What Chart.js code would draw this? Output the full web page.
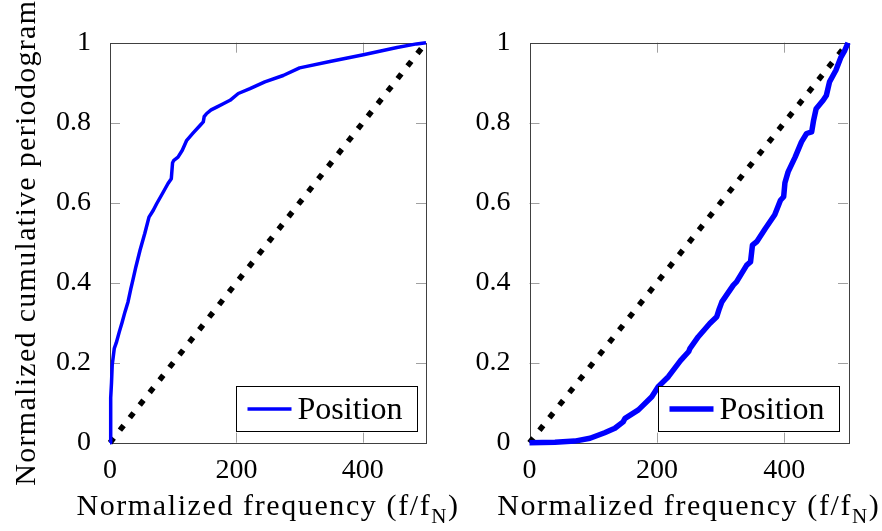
<!DOCTYPE html>
<html>
<head>
<meta charset="utf-8">
<script src="https://cdn.jsdelivr.net/npm/chart.js@4.4.1/dist/chart.umd.min.js"></script>
<style>
    html, body { margin: 0; padding: 0; background: #ffffff; }
    #wrap { position: relative; width: 882px; height: 531px; }
    .panel { position: absolute; top: 0; height: 531px; }
    /* left panel spans the whole width so its x title may run past the middle */
    #panel-left { left: 0; width: 882px; }
    #panel-right { left: 441px; width: 441px; }
</style>
</head>
<body>
<div id="wrap">
    <div class="panel" id="panel-left"><canvas id="cpg-left"></canvas></div>
    <div class="panel" id="panel-right"><canvas id="cpg-right"></canvas></div>
</div>
<script>
// ---- data ----
const LEFT_FREQ = [0, 1.1, 2.4, 3.5, 6.8, 10, 14.7, 19, 23.7, 28.5, 33, 36, 41, 47.5, 55, 61.7, 68.5, 74, 83, 91.8, 97, 99, 101, 107.6, 114.4, 121.4, 132, 142.4, 147.6, 149, 153, 160, 168.8, 180, 189.9, 203, 221.5, 245, 274, 300, 348, 401, 454, 485, 500];
const LEFT_CPG  = [0, 0.112, 0.15, 0.194, 0.236, 0.25, 0.277, 0.3, 0.327, 0.352, 0.385, 0.405, 0.44, 0.481, 0.523, 0.564, 0.581, 0.598, 0.623, 0.648, 0.66, 0.7, 0.706, 0.714, 0.731, 0.756, 0.775, 0.793, 0.802, 0.815, 0.823, 0.832, 0.839, 0.848, 0.856, 0.873, 0.885, 0.902, 0.918, 0.937, 0.953, 0.97, 0.988, 0.997, 1.0];

const RIGHT_FREQ = [0, 40, 71, 95, 118, 134, 147, 150, 171, 192, 202, 218, 237, 250, 252, 265, 283, 294, 298, 302, 320, 325, 341, 347, 350, 357, 370, 385, 394, 399, 401, 406, 417, 427, 435, 443, 446, 450, 461, 466, 471, 481, 489, 495, 500];
const RIGHT_CPG  = [0, 0.001, 0.004, 0.011, 0.025, 0.036, 0.052, 0.061, 0.082, 0.115, 0.14, 0.165, 0.205, 0.228, 0.236, 0.265, 0.298, 0.315, 0.335, 0.352, 0.394, 0.402, 0.444, 0.452, 0.494, 0.503, 0.535, 0.57, 0.606, 0.615, 0.65, 0.677, 0.714, 0.752, 0.773, 0.777, 0.806, 0.835, 0.856, 0.868, 0.902, 0.931, 0.964, 0.981, 1.0];

// white-noise reference line
const DIAG_FREQ = [0, 500];
const DIAG_CPG  = [0, 1];

const X_TICKS = [0, 200, 400];
const Y_TICKS = [0, 0.2, 0.4, 0.6, 0.8, 1];
const Y_TICK_LABELS = ['0', '0.2', '0.4', '0.6', '0.8', '1'];

const SERIES_LABEL = 'Position';
const X_TITLE = 'Normalized frequency (f/f';
const X_TITLE_SUB = 'N';
const Y_TITLE = 'Normalized cumulative periodogram';

const SERIF = "'Liberation Serif', 'DejaVu Serif', serif";

function toPoints(xs, ys) {
    return xs.map((x, i) => ({ x: x, y: ys[i] }));
}

// frame with inward ticks on all four sides, pgfplots style
const framePlugin = {
    id: 'frame',
    beforeDatasetsDraw(chart) {
        const { ctx, chartArea: a, scales } = chart;
        ctx.save();
        ctx.lineWidth = 1;
        ctx.strokeStyle = '#a0a0a0';
        ctx.beginPath();
        X_TICKS.forEach(v => {
            if (v <= scales.x.min || v >= scales.x.max) return;
            const px = Math.round(scales.x.getPixelForValue(v)) + 0.5;
            ctx.moveTo(px, a.bottom); ctx.lineTo(px, a.bottom - 10);
            ctx.moveTo(px, a.top); ctx.lineTo(px, a.top + 10);
        });
        Y_TICKS.forEach(v => {
            if (v <= scales.y.min || v >= scales.y.max) return;
            const py = Math.round(scales.y.getPixelForValue(v)) + 0.5;
            ctx.moveTo(a.left, py); ctx.lineTo(a.left + 10, py);
            ctx.moveTo(a.right, py); ctx.lineTo(a.right - 10, py);
        });
        ctx.stroke();
        ctx.strokeStyle = '#404040';
        ctx.strokeRect(Math.round(a.left) + 0.5, Math.round(a.top) + 0.5,
            Math.round(a.right - a.left), Math.round(a.bottom - a.top));
        ctx.restore();
    },
    afterDraw(chart, args, opts) {
        const { ctx, chartArea: a } = chart;
        ctx.save();

        // legend box, bottom right inside the axes
        const bw = 181, bh = 45;
        const bx = Math.round(a.right - 9 - bw) + 0.5;
        const by = Math.round(a.bottom - 12 - bh) + 0.5;
        ctx.fillStyle = '#ffffff';
        ctx.fillRect(bx, by, bw, bh);
        ctx.strokeStyle = '#000000';
        ctx.lineWidth = 1;
        ctx.strokeRect(bx, by, bw, bh);
        const my = by + bh / 2;
        ctx.strokeStyle = '#0000ff';
        ctx.lineWidth = opts.lineWidth;
        ctx.beginPath();
        ctx.moveTo(bx + 11, my);
        ctx.lineTo(bx + 55, my);
        ctx.stroke();
        ctx.fillStyle = '#000000';
        ctx.font = '32px ' + SERIF;
        ctx.textBaseline = 'alphabetic';
        ctx.textAlign = 'left';
        ctx.fillText(SERIES_LABEL, bx + 61, my + 10);

        // x axis title with subscript
        ctx.letterSpacing = '1.6px';
        const mainFont = '30px ' + SERIF, subFont = '21px ' + SERIF;
        ctx.font = mainFont;
        const w1 = ctx.measureText(X_TITLE).width;
        const w3 = ctx.measureText(')').width;
        ctx.font = subFont;
        const w2 = ctx.measureText(X_TITLE_SUB).width;
        let tx = (a.left + a.right) / 2 - (w1 + w2 + w3) / 2;
        const ty = 515;
        ctx.font = mainFont;
        ctx.fillText(X_TITLE, tx, ty);
        tx += w1;
        ctx.font = subFont;
        ctx.fillText(X_TITLE_SUB, tx, ty + 8);
        tx += w2;
        ctx.font = mainFont;
        ctx.fillText(')', tx, ty);

        if (opts.yTitle) {
            ctx.font = '30px ' + SERIF;
            ctx.translate(35, (a.top + a.bottom) / 2);
            ctx.rotate(-Math.PI / 2);
            ctx.letterSpacing = '1.3px';
            ctx.textAlign = 'center';
            ctx.fillText(Y_TITLE, 0, 0);
        }
        ctx.restore();
    }
};

function makePanel(canvasId, freq, cpg, cfg) {
    const ctx = document.getElementById(canvasId).getContext('2d');
    return new Chart(ctx, {
        type: 'scatter',
        data: {
            datasets: [{
                label: SERIES_LABEL,
                data: toPoints(freq, cpg),
                showLine: true,
                borderColor: '#0000ff',
                borderWidth: cfg.lineWidth,
                pointRadius: 0,
                tension: 0,
                clip: false,
                borderJoinStyle: 'round'
            }, {
                label: 'white noise',
                data: toPoints(DIAG_FREQ, DIAG_CPG),
                showLine: true,
                borderColor: '#000000',
                borderWidth: 5.5,
                borderDash: [6, 10],
                borderCapStyle: 'butt',
                pointRadius: 0,
                clip: false
            }]
        },
        options: {
            responsive: true,
            maintainAspectRatio: false,
            animation: false,
            devicePixelRatio: 1,
            layout: { padding: { left: 0, right: cfg.padRight, top: 42.7, bottom: 0 } },
            plugins: {
                legend: { display: false },
                tooltip: { enabled: false },
                frame: { lineWidth: cfg.lineWidth, yTitle: cfg.yTitle }
            },
            scales: {
                x: {
                    type: 'linear',
                    min: 0,
                    max: 500,
                    afterBuildTicks: s => { s.ticks = X_TICKS.map(v => ({ value: v })); },
                    afterFit: s => { s.height = 88.3; },
                    grid: { display: false },
                    border: { display: false },
                    ticks: {
                        color: '#000000',
                        font: { family: SERIF, size: 28 },
                        padding: 3,
                        maxRotation: 0,
                        autoSkip: false
                    }
                },
                y: {
                    type: 'linear',
                    min: 0,
                    max: 1,
                    afterBuildTicks: s => { s.ticks = Y_TICKS.map(v => ({ value: v })); },
                    afterFit: s => { s.width = cfg.yWidth; },
                    grid: { display: false },
                    border: { display: false },
                    ticks: {
                        color: '#000000',
                        font: { family: SERIF, size: 28 },
                        padding: 11,
                        autoSkip: false,
                        callback: (v, i) => Y_TICK_LABELS[i]
                    }
                }
            }
        },
        plugins: [framePlugin]
    });
}

makePanel('cpg-left', LEFT_FREQ, LEFT_CPG, { lineWidth: 3.5, padRight: 456, yWidth: 110, yTitle: true });
makePanel('cpg-right', RIGHT_FREQ, RIGHT_CPG, { lineWidth: 5.5, padRight: 34, yWidth: 88.5, yTitle: false });
</script>
</body>
</html>
